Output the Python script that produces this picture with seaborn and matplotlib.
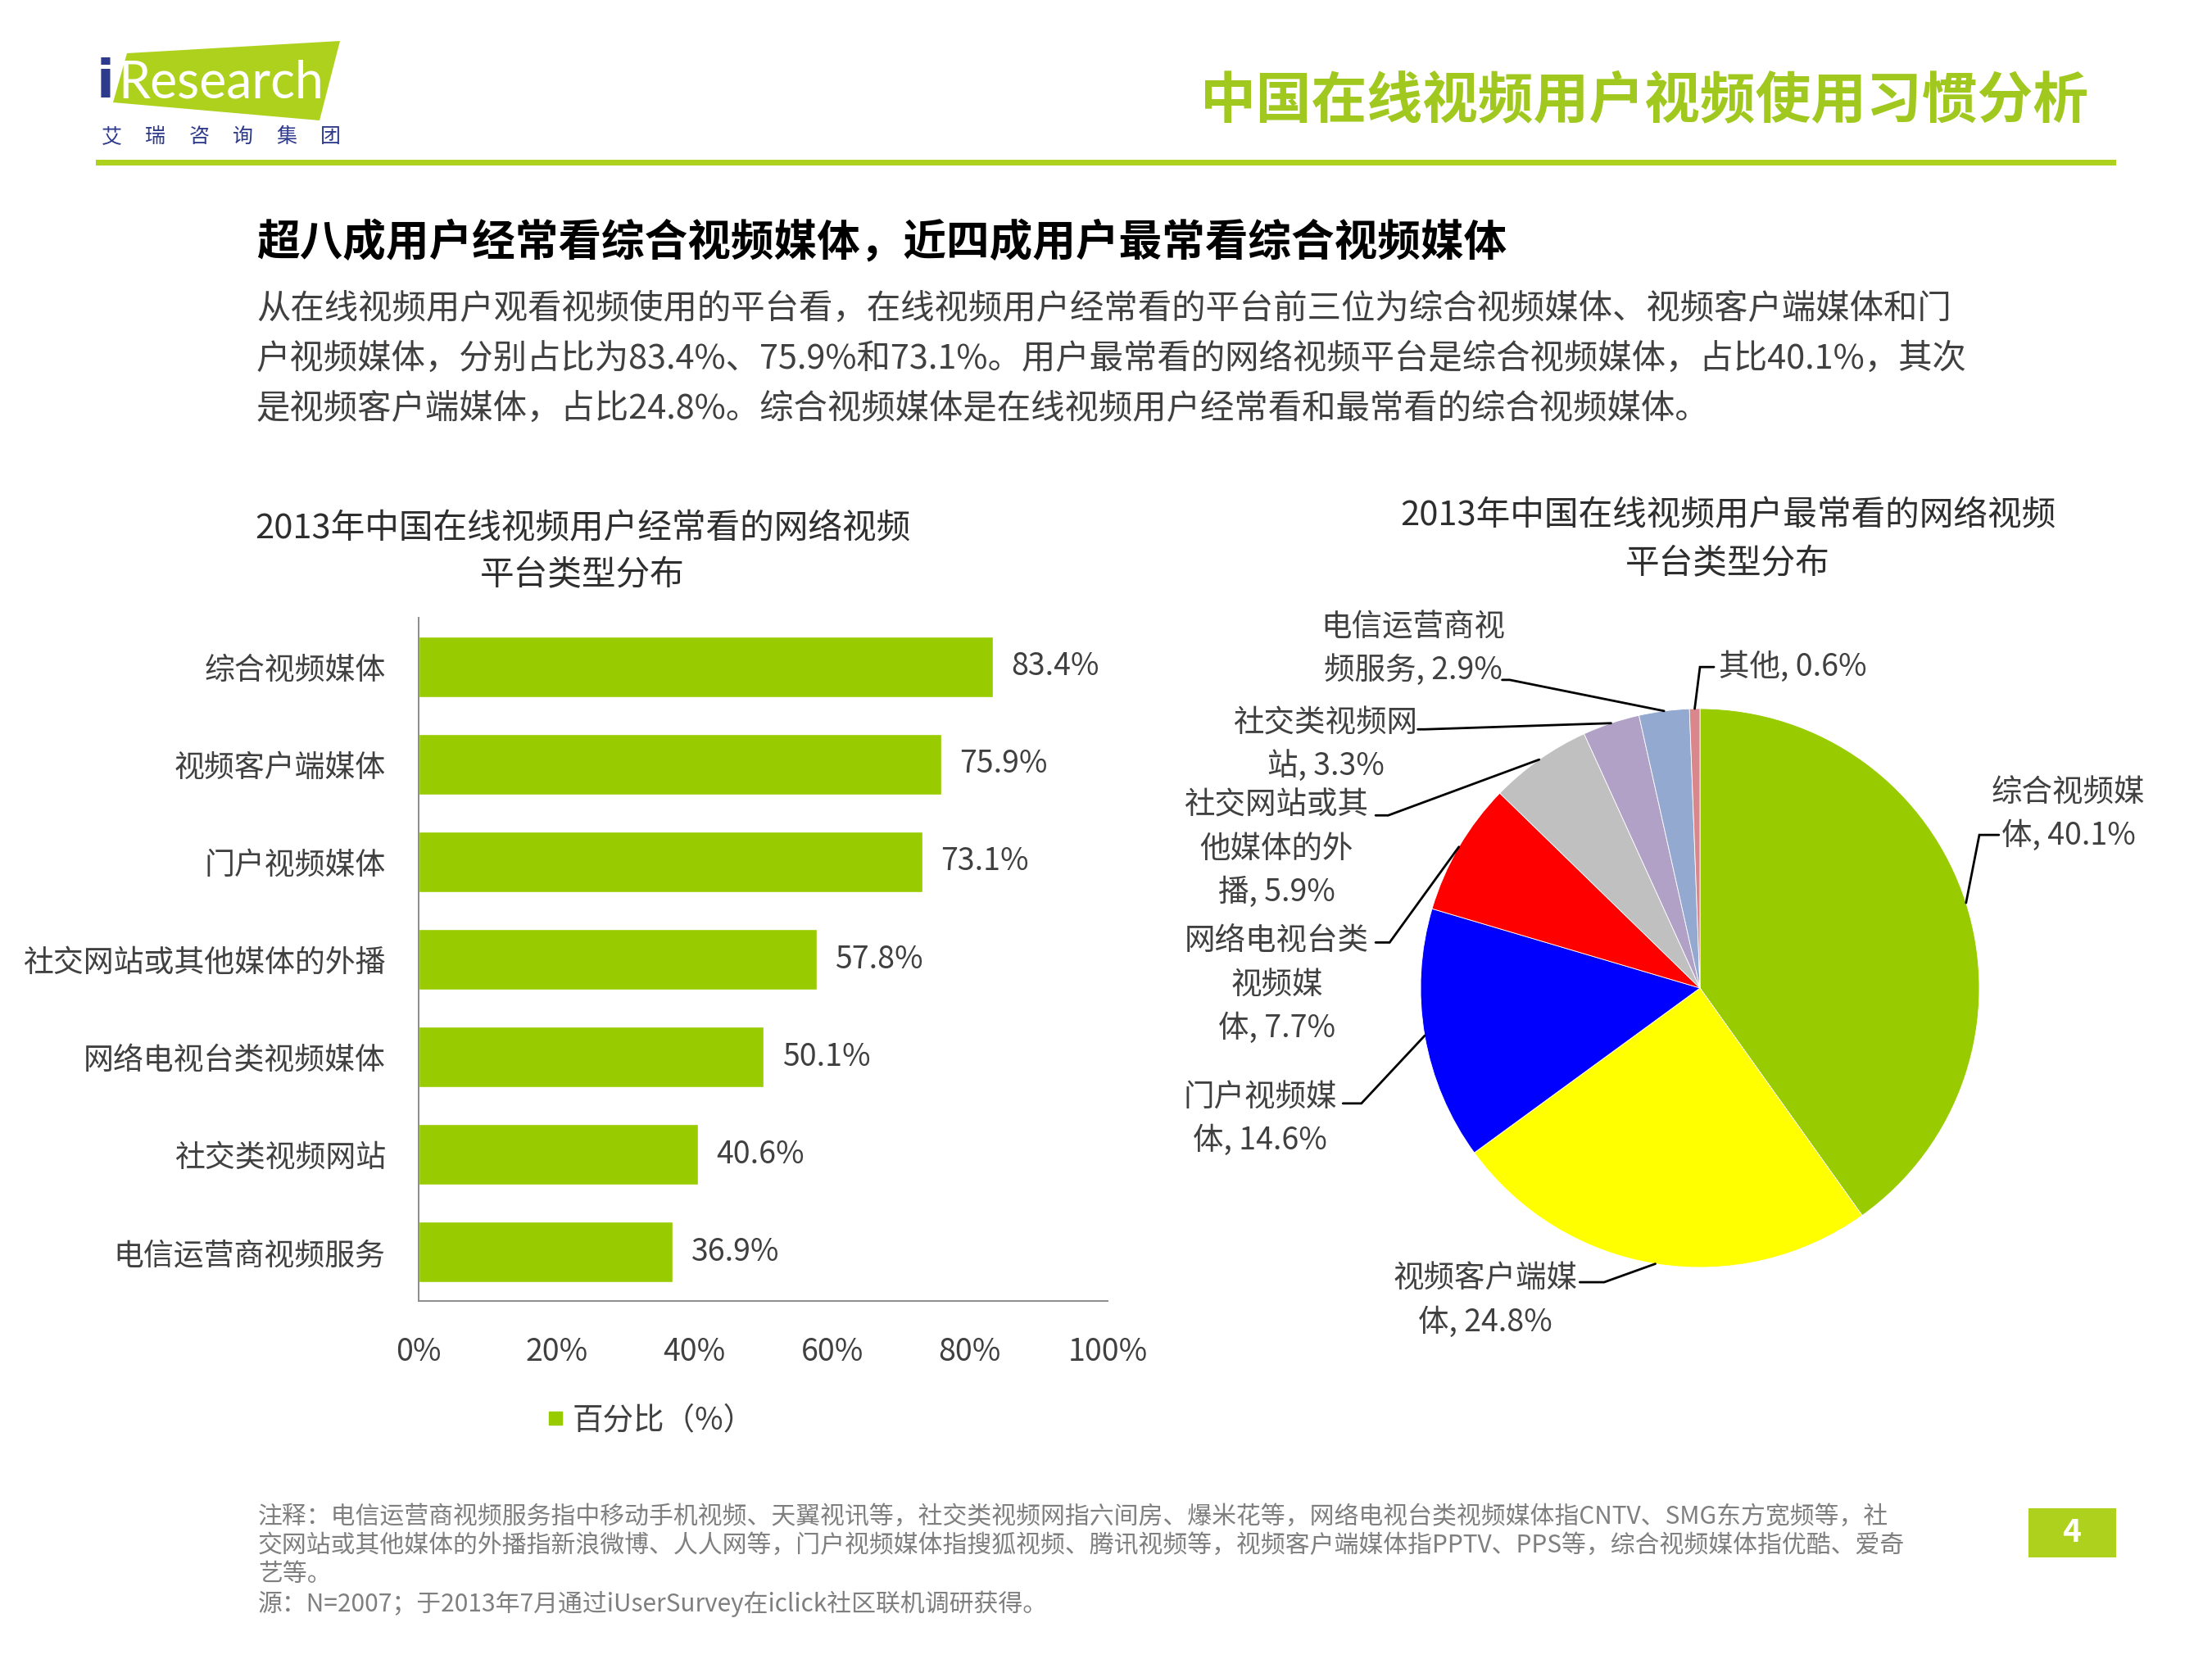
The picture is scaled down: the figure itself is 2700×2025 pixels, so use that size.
import matplotlib
matplotlib.use("Agg")
import matplotlib.pyplot as plt
from matplotlib.patches import Polygon, Rectangle
from matplotlib.lines import Line2D
import numpy as np
import pandas as pd
import seaborn as sns

# Page size in pixels (saved at dpi 100)
W, H = 2700, 2025

# Bar chart data
BAR_CATEGORIES = ["综合视频媒体", "视频客户端媒体", "门户视频媒体", "社交网站或其他媒体的外播",
                  "网络电视台类视频媒体", "社交类视频网站", "电信运营商视频服务"]
BAR_VALUES = [83.4, 75.9, 73.1, 57.8, 50.1, 40.6, 36.9]
X_TICKS = [0, 20, 40, 60, 80, 100]
LEGEND_LABEL = "百分比（%）"

# Pie chart data
PIE_CATEGORIES = ["综合视频媒体", "视频客户端媒体", "门户视频媒体", "网络电视台类视频媒体",
                  "社交网站或其他媒体的外播", "社交类视频网站", "电信运营商视频服务", "其他"]
PIE_VALUES = [40.1, 24.8, 14.6, 7.7, 5.9, 3.3, 2.9, 0.6]
PIE_LABEL_TEXT = ["综合视频媒\n体", "视频客户端媒\n体", "门户视频媒\n体", "网络电视台类\n视频媒\n体",
                  "社交网站或其\n他媒体的外\n播", "社交类视频网\n站", "电信运营商视\n频服务", "其他"]
PIE_COLORS = ["#99CC00", "#FFFF00", "#0000FF", "#FF0000", "#C0C0C0", "#B2A1C7", "#94A9D0", "#DA878C"]

# Label layout for the pie (pie radius = 1): text spot, leader elbow, end of stub
PIE_TEXT_POS = [(1.318, 0.623), (-0.768, -1.12), (-1.575, -0.468), (-1.515, 0.012),
                (-1.515, 0.497), (-1.338, 0.870), (-1.026, 1.213), (0.066, 1.149)]
PIE_ELBOWS = [(1.0, 0.548), (-0.343, -1.053), (-1.212, -0.413), (-1.111, 0.163),
              (-1.116, 0.618), (-0.984, 0.926), (-0.681, 1.103), (0.0, 1.149)]
PIE_STUB_ENDS = [(1.07, 0.548), (-0.43, -1.053), (-1.278, -0.413), (-1.161, 0.163),
                 (-1.161, 0.618), (-1.01, 0.926), (-0.708, 1.103), (0.05, 1.149)]

GREEN = "#99CC00"
LIME = "#AED11E"
TEXT_GRAY = "#404040"
TITLE_GRAY = "#2E2E2E"
NAVY = "#2E3A8C"

HEADLINE = "超八成用户经常看综合视频媒体，近四成用户最常看综合视频媒体"
PARAGRAPH = [
    "从在线视频用户观看视频使用的平台看，在线视频用户经常看的平台前三位为综合视频媒体、视频客户端媒体和门",
    "户视频媒体，分别占比为83.4%、75.9%和73.1%。用户最常看的网络视频平台是综合视频媒体，占比40.1%，其次",
    "是视频客户端媒体，占比24.8%。综合视频媒体是在线视频用户经常看和最常看的综合视频媒体。",
]
FOOTNOTES = [
    "注释：电信运营商视频服务指中移动手机视频、天翼视讯等，社交类视频网指六间房、爆米花等，网络电视台类视频媒体指CNTV、SMG东方宽频等，社",
    "交网站或其他媒体的外播指新浪微博、人人网等，门户视频媒体指搜狐视频、腾讯视频等，视频客户端媒体指PPTV、PPS等，综合视频媒体指优酷、爱奇",
    "艺等。",
    "源：N=2007；于2013年7月通过iUserSurvey在iclick社区联机调研获得。",
]


def fx(x):
    return x / W


def fy(y):
    return 1 - y / H


def draw_header(fig):
    # logo: lime quadrilateral with "iResearch" and the group name below
    logo = Polygon([(fx(155), fy(65)), (fx(415), fy(50)), (fx(390), fy(147)), (fx(138), fy(125))],
                   closed=True, facecolor=LIME, edgecolor="none", transform=fig.transFigure)
    fig.add_artist(logo)
    fig.text(fx(118), fy(119), "i", fontsize=46, fontweight="bold", color=NAVY,
             family="DejaVu Sans", va="baseline", ha="left")
    fig.text(fx(144), fy(119), "Research", fontsize=45, color="white",
             family="Lato", va="baseline", ha="left")
    for i, ch in enumerate("艾瑞咨询集团"):
        fig.text(fx(136 + 53.5 * i), fy(167), ch, fontsize=18, color=NAVY, ha="center", va="center")

    fig.text(fx(2549), fy(124), "中国在线视频用户视频使用习惯分析", fontsize=48.8, fontweight="bold",
             color="#A0C81E", ha="right", va="center")
    fig.add_artist(Rectangle((fx(117), fy(202)), fx(2583 - 117), 7 / H, facecolor=LIME,
                             edgecolor="none", transform=fig.transFigure))

    fig.text(fx(313), fy(296), HEADLINE, fontsize=37.9, fontweight="bold", color="black",
             ha="left", va="center")
    for i, line in enumerate(PARAGRAPH):
        fig.text(fx(313), fy(377 + 61 * i), line, fontsize=29.8, color=TEXT_GRAY, ha="left", va="center")


def draw_bar_chart(fig):
    ax = fig.add_axes([fx(511), fy(1588), fx(1352 - 511), (1588 - 754) / H])
    bar_df = pd.DataFrame({"platform": BAR_CATEGORIES, "share": BAR_VALUES})
    sns.barplot(data=bar_df, x="share", y="platform", orient="h", color=GREEN,
                saturation=1, width=0.62, ax=ax)
    ax.bar_label(ax.containers[0], labels=[f"{v}%" for v in BAR_VALUES], padding=16,
                 fontsize=27, color=TEXT_GRAY)

    ax.set_xlim(0, 100)
    ax.set_xticks(X_TICKS)
    ax.set_xticklabels([f"{t}%" for t in X_TICKS])
    ax.set_xlabel("")
    ax.set_ylabel("")
    ax.tick_params(axis="x", length=0, pad=31, labelsize=27, labelcolor=TEXT_GRAY)
    ax.tick_params(axis="y", length=0, pad=29, labelsize=26.6, labelcolor=TEXT_GRAY)
    sns.despine(ax=ax)
    for side in ["left", "bottom"]:
        ax.spines[side].set_color("#8C8C8C")
        ax.spines[side].set_linewidth(1.4)
    ax.grid(False)

    fig.text(fx(711), fy(646), "2013年中国在线视频用户经常看的网络视频", fontsize=30,
             color=TITLE_GRAY, ha="center", va="center", fontweight="medium")
    fig.text(fx(711), fy(703), "平台类型分布", fontsize=30, color=TITLE_GRAY,
             ha="center", va="center", fontweight="medium")

    handle = Line2D([], [], marker="s", color=GREEN, linestyle="none", markersize=12)
    fig.legend(handles=[handle], labels=[LEGEND_LABEL], loc="center",
               bbox_to_anchor=(fx(794), fy(1734)), frameon=False, fontsize=27,
               handlelength=0.6, handletextpad=0.25, labelcolor=TEXT_GRAY)


def draw_pie_chart(fig):
    cx, cy, r = 2075, 1206, 341
    half = 1.25 * r
    ax = fig.add_axes([fx(cx - half), fy(cy + half), 2 * half / W, 2 * half / H])
    wedges, _ = ax.pie(PIE_VALUES, colors=PIE_COLORS, startangle=90, counterclock=False,
                       wedgeprops=dict(linewidth=0.6, edgecolor="white"))
    ax.set_xlim(-1.25, 1.25)
    ax.set_ylim(-1.25, 1.25)
    ax.set_aspect("equal")
    ax.axis("off")

    for w, text, val, pos, elbow, end in zip(wedges, PIE_LABEL_TEXT, PIE_VALUES,
                                             PIE_TEXT_POS, PIE_ELBOWS, PIE_STUB_ENDS):
        mid = np.deg2rad((w.theta1 + w.theta2) / 2)
        anchor = (np.cos(mid), np.sin(mid))
        ax.plot([anchor[0], elbow[0], end[0]], [anchor[1], elbow[1], end[1]],
                color="black", linewidth=2, clip_on=False, solid_joinstyle="miter")
        ha = "left" if text == "其他" else "center"
        ax.text(pos[0], pos[1], f"{text}, {val}%", fontsize=27, color=TEXT_GRAY,
                ha=ha, va="center", multialignment="center", linespacing=1.47)

    fig.text(fx(2109), fy(630), "2013年中国在线视频用户最常看的网络视频", fontsize=30,
             color=TITLE_GRAY, ha="center", va="center", fontweight="medium")
    fig.text(fx(2109), fy(689), "平台类型分布", fontsize=30, color=TITLE_GRAY,
             ha="center", va="center", fontweight="medium")


def draw_footer(fig):
    for i, line in enumerate(FOOTNOTES):
        fig.text(fx(315), fy(1851 + 35.5 * i), line, fontsize=21.5, color="#7F7F7F",
                 ha="left", va="center")
    fig.add_artist(Rectangle((fx(2476), fy(1901)), fx(2583 - 2476), (1901 - 1841) / H,
                             facecolor=LIME, edgecolor="none", transform=fig.transFigure))
    fig.text(fx(2529), fy(1871), "4", fontsize=28, fontweight="bold", color="white",
             ha="center", va="center")


def main():
    sns.set_theme(style="white")
    plt.rcParams["font.family"] = ["Noto Sans CJK SC", "DejaVu Sans"]

    fig = plt.figure(figsize=(W / 100, H / 100), dpi=100)
    fig.patch.set_facecolor("white")

    draw_header(fig)
    draw_bar_chart(fig)
    draw_pie_chart(fig)
    draw_footer(fig)

    fig.savefig("out.png", dpi=100, facecolor="white")


if __name__ == "__main__":
    main()
